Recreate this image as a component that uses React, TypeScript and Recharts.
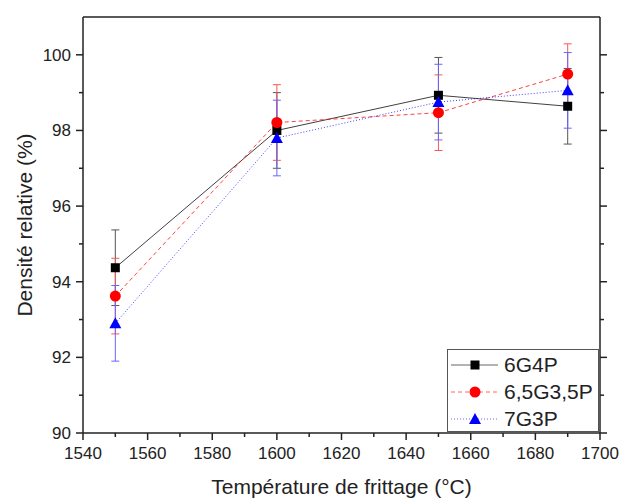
import { ComposedChart, ErrorBar, Legend, Line, XAxis, YAxis } from "recharts";

const temperatures = [1550, 1600, 1650, 1690];

const densite6G4P = [94.37, 98.0, 98.93, 98.64];
const erreur6G4P = [1.0, 1.0, 1.0, 1.0];
const densite65G35P = [93.62, 98.21, 98.47, 99.49];
const erreur65G35P = [1.0, 1.0, 1.0, 0.8];
const densite7G3P = [92.9, 97.8, 98.75, 99.06];
const erreur7G3P = [1.0, 1.0, 1.0, 1.0];

const xTicks = [1540, 1550, 1560, 1570, 1580, 1590, 1600, 1610, 1620, 1630, 1640, 1650, 1660, 1670, 1680, 1690, 1700];
const xLabels = [1540, 1560, 1580, 1600, 1620, 1640, 1660, 1680, 1700];
const yTicks = [90, 91, 92, 93, 94, 95, 96, 97, 98, 99, 100];
const yLabels = [90, 92, 94, 96, 98, 100];

type Forme = "carre" | "cercle" | "triangle";

type Serie = {
	nom: string;
	valeurs: number[];
	erreurs: number[];
	couleur: string;
	couleurErreur: string;
	tirets?: string;
	forme: Forme;
};

const series: Serie[] = [
	{ nom: "6G4P", valeurs: densite6G4P, erreurs: erreur6G4P, couleur: "#000000", couleurErreur: "#555555", forme: "carre" },
	{ nom: "6,5G3,5P", valeurs: densite65G35P, erreurs: erreur65G35P, couleur: "#ff0000", couleurErreur: "#ff5555", tirets: "4 3", forme: "cercle" },
	{ nom: "7G3P", valeurs: densite7G3P, erreurs: erreur7G3P, couleur: "#0000ff", couleurErreur: "#6666ff", tirets: "1 2", forme: "triangle" },
];

function transformData(serie: Serie) {
	return temperatures.map((t, i) => ({
		temperature: t,
		densite: serie.valeurs[i],
		erreur: serie.erreurs[i],
	}));
}

const police = "'Liberation Sans', Arial, sans-serif";
const encre = "#222222";

const Marqueur = ({ cx, cy, forme, couleur }: { cx: number; cy: number; forme: Forme; couleur: string }) => {
	if (forme === "carre") return <rect x={cx - 4.5} y={cy - 4.5} width={9} height={9} fill={couleur} />;
	if (forme === "cercle") return <circle cx={cx} cy={cy} r={5.5} fill={couleur} />;
	return <polygon points={`${cx},${cy - 6} ${cx + 6},${cy + 5} ${cx - 6},${cy + 5}`} fill={couleur} />;
};

const TickBas = ({ x, y, payload }: any) => {
	const major = xLabels.includes(payload.value);
	return (
		<g>
			<line x1={x} x2={x} y1={y} y2={y + (major ? 7 : 4)} stroke={encre} strokeWidth={1.5} />
			{major && (
				<text x={x} y={y + 26} textAnchor='middle' fontSize={17} fill={encre} fontFamily={police}>
					{payload.value}
				</text>
			)}
		</g>
	);
};

const TickHaut = ({ x, y, payload }: any) => {
	const major = xLabels.includes(payload.value);
	return <line x1={x} x2={x} y1={y} y2={y - (major ? 7 : 4)} stroke={encre} strokeWidth={1.5} />;
};

const TickGauche = ({ x, y, payload }: any) => {
	const major = yLabels.includes(payload.value);
	return (
		<g>
			<line x1={x} x2={x - (major ? 7 : 4)} y1={y} y2={y} stroke={encre} strokeWidth={1.5} />
			{major && (
				<text x={x - 12} y={y + 6} textAnchor='end' fontSize={17} fill={encre} fontFamily={police}>
					{payload.value}
				</text>
			)}
		</g>
	);
};

const TickDroite = ({ x, y, payload }: any) => {
	const major = yLabels.includes(payload.value);
	return <line x1={x} x2={x + (major ? 7 : 4)} y1={y} y2={y} stroke={encre} strokeWidth={1.5} />;
};

const Legende = () => (
	<div
		style={{
			width: 152,
			height: 83,
			border: "1px solid #555",
			background: "#fff",
			fontFamily: police,
			fontSize: 21,
			color: encre,
			paddingTop: 1,
			boxSizing: "border-box",
		}}
	>
		{series.map((s) => (
			<div key={s.nom} style={{ display: "flex", alignItems: "center", height: 27 }}>
				<svg width={50} height={20} style={{ marginLeft: 1 }}>
					<line x1={2} x2={49} y1={10} y2={10} stroke={s.couleur} strokeOpacity={0.6} strokeDasharray={s.tirets} />
					<Marqueur cx={26} cy={10} forme={s.forme} couleur={s.couleur} />
				</svg>
				<span style={{ marginLeft: 5 }}>{s.nom}</span>
			</div>
		))}
	</div>
);

const axe = { stroke: encre, strokeWidth: 1.5 };

const GraphiqueDensite = () => (
	<div style={{ position: "absolute", left: 0, top: 0 }}>
		<ComposedChart width={619} height={500} margin={{ top: 0, right: 0, bottom: 0, left: 0 }}>
			<XAxis
				xAxisId='bas'
				dataKey='temperature'
				type='number'
				domain={[1540, 1700]}
				ticks={xTicks}
				interval={0}
				tick={<TickBas />}
				tickLine={false}
				tickSize={0}
				tickMargin={0}
				axisLine={axe}
				height={67}
				allowDataOverflow
				label={{
					value: "Température de frittage (°C)",
					position: "insideBottom",
					offset: 6,
					fontSize: 21,
					fill: encre,
					fontFamily: police,
				}}
			/>
			<XAxis
				xAxisId='haut'
				orientation='top'
				type='number'
				domain={[1540, 1700]}
				ticks={xTicks}
				interval={0}
				tick={<TickHaut />}
				tickLine={false}
				tickSize={0}
				tickMargin={0}
				axisLine={axe}
				height={17}
				allowDataOverflow
			/>
			<YAxis
				yAxisId='gauche'
				type='number'
				domain={[90, 101]}
				ticks={yTicks}
				interval={0}
				tick={<TickGauche />}
				tickLine={false}
				tickSize={0}
				tickMargin={0}
				axisLine={axe}
				width={83}
				allowDataOverflow
				label={{
					value: "Densité relative (%)",
					angle: -90,
					position: "insideLeft",
					offset: 25,
					fontSize: 21,
					fill: encre,
					fontFamily: police,
					style: { textAnchor: "middle" },
				}}
			/>
			<YAxis
				yAxisId='droite'
				orientation='right'
				type='number'
				domain={[90, 101]}
				ticks={yTicks}
				interval={0}
				tick={<TickDroite />}
				tickLine={false}
				tickSize={0}
				tickMargin={0}
				axisLine={axe}
				width={19}
				allowDataOverflow
			/>
			{series.map((s) => (
				<Line
					key={s.nom}
					xAxisId='bas'
					yAxisId='gauche'
					data={transformData(s)}
					dataKey='densite'
					name={s.nom}
					type='linear'
					stroke={s.couleur}
					strokeOpacity={0.75}
					strokeWidth={1}
					strokeDasharray={s.tirets}
					isAnimationActive={false}
					dot={(p: any) => <Marqueur key={p.index} cx={p.cx} cy={p.cy} forme={s.forme} couleur={s.couleur} />}
					activeDot={false}
				>
					<ErrorBar dataKey='erreur' direction='y' width={4} stroke={s.couleurErreur} strokeWidth={1} isAnimationActive={false} />
				</Line>
			))}
			<Legend
				layout='vertical'
				align='center'
				verticalAlign='middle'
				content={<Legende />}
				wrapperStyle={{ left: 447, top: 349, width: 152 }}
			/>
		</ComposedChart>
	</div>
);

export default function App() {
	return <GraphiqueDensite />;
}
